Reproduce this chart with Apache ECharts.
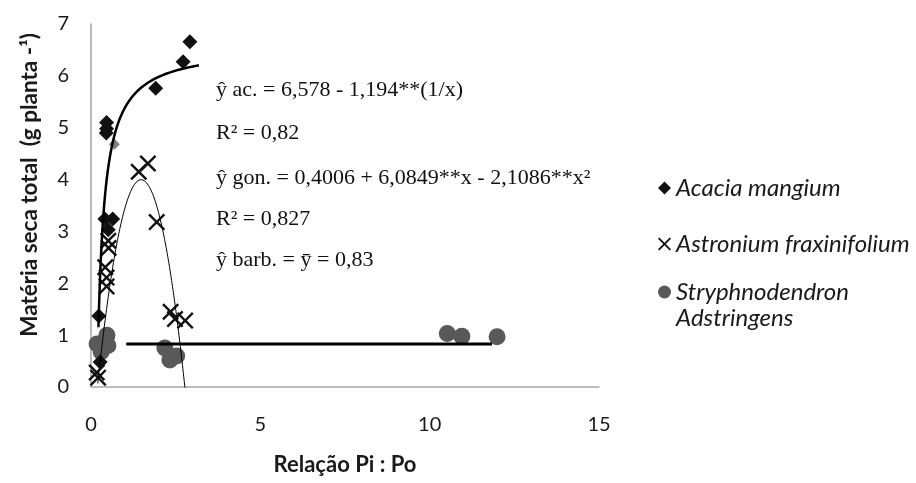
<!DOCTYPE html>
<html><head><meta charset="utf-8">
<script src="https://cdn.jsdelivr.net/npm/echarts@6/dist/echarts.min.js"></script>
<style>html,body{margin:0;padding:0;background:#fff}#c{width:916px;height:483px}</style>
</head><body><div id="c"></div>
<script>
// ---- data ----
const xTicks = [0, 5, 10, 15];
const yTicks = [0, 1, 2, 3, 4, 5, 6, 7];
const seriesNames = ['Acacia mangium', 'Astronium fraxinifolium', 'Stryphnodendron Adstringens'];

const acaciaX = [2.92, 2.72, 1.91, 0.46, 0.46, 0.45, 0.41, 0.64, 0.51, 0.23, 0.27];
const acaciaY = [6.66, 6.27, 5.76, 5.10, 4.98, 4.90, 3.24, 3.24, 3.03, 1.37, 0.48];
const acaciaGrayX = [0.69];
const acaciaGrayY = [4.68];

const astroX = [1.68, 1.41, 1.94, 0.51, 0.52, 0.42, 0.46, 0.46, 2.35, 2.48, 2.78, 0.17, 0.21];
const astroY = [4.31, 4.15, 3.18, 2.82, 2.68, 2.31, 2.11, 1.94, 1.45, 1.31, 1.28, 0.28, 0.18];

const stryX = [0.18, 0.47, 0.50, 0.30, 2.18, 2.33, 2.53, 10.52, 10.95, 11.99];
const stryY = [0.83, 1.00, 0.80, 0.68, 0.75, 0.52, 0.60, 1.03, 0.98, 0.97];

// trend lines: coefficients and x-range
const acaciaFit = [6.578, -1.194];          // y = a + b / x
const acaciaRange = [0.22, 3.2];
const astroFit = [-1.257, 7.104, -2.4];      // y = c + b x + a x^2 (curve as drawn)
const astroRange = [0.2, 2.78];
const stryMean = [0.83];
const stryRange = [1.04, 11.84];

const equations = [
  'ŷ ac. = 6,578 - 1,194**(1/x)',
  'R² = 0,82',
  'ŷ gon. = 0,4006 + 6,0849**x - 2,1086**x²',
  'R² = 0,827',
  'ŷ barb. = ȳ = 0,83'
];

// ---- build ----
const zip = (xs, ys) => xs.map((x, i) => [x, ys[i]]);
function sample(range, f, n) {
  const out = [];
  for (let i = 0; i <= n; i++) {
    const x = range[0] + (range[1] - range[0]) * i / n;
    out.push([x, f(x)]);
  }
  return out;
}
const acaciaCurve = sample(acaciaRange, x => acaciaFit[0] + acaciaFit[1] / x, 200);
const astroCurve = sample(astroRange, x => astroFit[0] + astroFit[1] * x + astroFit[2] * x * x, 200);
const stryLine = [[stryRange[0], stryMean[0]], [stryRange[1], stryMean[0]]];

const xPath = 'path://M0,10L10,0L50,40L90,0L100,10L60,50L100,90L90,100L50,60L10,100L0,90L40,50Z';
const sansFont = 'Lato, "Open Sans", sans-serif';
const txt = '#1a1a1a';

const chart = echarts.init(document.getElementById('c'), null, {renderer: 'canvas'});
const eqTops = [90, 133, 178, 219, 260];
const legendText = {color: txt, fontFamily: sansFont, fontSize: 24, fontStyle: 'italic', lineHeight: 26};

chart.setOption({
  animation: false,
  backgroundColor: '#fff',
  grid: {left: 91, right: 317, top: 24, bottom: 96, containLabel: false},
  xAxis: {
    type: 'value', min: xTicks[0], max: xTicks[xTicks.length - 1], interval: xTicks[1] - xTicks[0],
    splitLine: {show: false}, axisTick: {show: false},
    axisLine: {lineStyle: {color: '#a6a6a6', width: 1.5}},
    axisLabel: {color: txt, fontFamily: sansFont, fontSize: 20, margin: 28},
    name: 'Relação Pi : Po', nameLocation: 'middle', nameGap: 67,
    nameTextStyle: {color: txt, fontFamily: sansFont, fontSize: 22, fontWeight: 'bold'}
  },
  yAxis: {
    type: 'value', min: yTicks[0], max: yTicks[yTicks.length - 1], interval: yTicks[1] - yTicks[0],
    splitLine: {show: false}, axisTick: {show: false},
    axisLine: {show: true, lineStyle: {color: '#a6a6a6', width: 1.5}},
    axisLabel: {color: txt, fontFamily: sansFont, fontSize: 20, margin: 22}
  },
  legend: [{
    orient: 'vertical', left: 653, top: 170, itemGap: 30, itemWidth: 13, itemHeight: 13,
    textStyle: legendText,
    data: [{name: seriesNames[0], icon: 'diamond'}, {name: seriesNames[1], icon: xPath}]
  }, {
    orient: 'vertical', left: 653, top: 248, itemWidth: 13, itemHeight: 13,
    formatter: n => '\n' + n.replace(' ', '\n'),
    textStyle: legendText,
    data: [{name: seriesNames[2], icon: 'circle'}]
  }],
  graphic: [
    {type: 'text', x: 30, y: 185, rotation: Math.PI / 2,
     style: {text: 'Matéria seca total  (g planta -¹)', fill: txt, font: 'bold 22.5px ' + sansFont, align: 'center', verticalAlign: 'middle'}}
  ].concat(equations.map((t, i) => ({
    type: 'text', x: 216, y: eqTops[i],
    style: {text: t, fill: '#111', font: '22px "Liberation Serif", "Times New Roman", serif', align: 'left', verticalAlign: 'middle'}
  }))),
  series: [
    {name: seriesNames[2], type: 'scatter', data: zip(stryX, stryY), symbol: 'circle', symbolSize: 17,
     itemStyle: {color: '#595959', opacity: 1}, z: 2},
    {name: seriesNames[0] + ' (cinza)', type: 'scatter', data: zip(acaciaGrayX, acaciaGrayY), symbol: 'diamond', symbolSize: 11,
     itemStyle: {color: '#7f7f7f', opacity: 1}, z: 2},
    {name: seriesNames[0], type: 'scatter', data: zip(acaciaX, acaciaY), symbol: 'diamond', symbolSize: 15,
     itemStyle: {color: '#111', opacity: 1}, z: 3},
    {name: seriesNames[1], type: 'scatter', data: zip(astroX, astroY), symbol: xPath, symbolSize: 17,
     itemStyle: {color: '#111', opacity: 1}, z: 4},
    {name: 'trend ac', type: 'line', data: acaciaCurve, showSymbol: false, symbol: 'none', silent: true,
     lineStyle: {color: '#000', width: 2.5}, z: 5},
    {name: 'trend gon', type: 'line', data: astroCurve, showSymbol: false, symbol: 'none', silent: true,
     lineStyle: {color: '#000', width: 1}, z: 5},
    {name: 'trend barb', type: 'line', data: stryLine, showSymbol: false, symbol: 'none', silent: true,
     lineStyle: {color: '#000', width: 3}, z: 5}
  ]
});
</script></body></html>
